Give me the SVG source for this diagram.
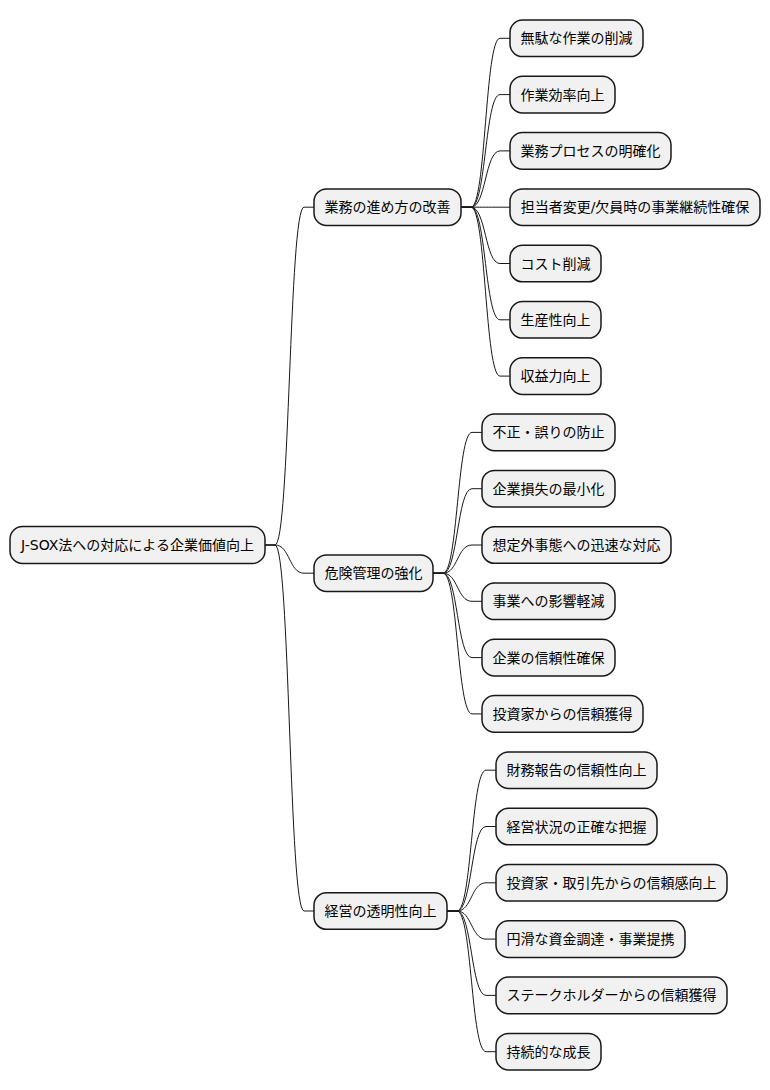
<svg xmlns="http://www.w3.org/2000/svg" width="770" height="1090" viewBox="0 0 770 1090">
<style>
rect{fill:#F1F1F1;stroke:#181818;stroke-width:1.5}
text{font-family:"DejaVu Sans","Noto Sans CJK JP",sans-serif;font-size:14px;fill:#000;text-anchor:middle}
.c path{fill:none;stroke:#181818;stroke-width:1}
</style>
<rect x="0" y="0" width="770" height="1090" style="fill:#fff;stroke:none"/>
<g class="c" id="connectors">
<path d="M265 545 L275 545 C290 545 289 207.2 304 207.2 L314 207.2"/>
<path d="M265 545 L275 545 C290 545 289 573.2 304 573.2 L314 573.2"/>
<path d="M265 545 L275 545 C290 545 289 911 304 911 L314 911"/>
<path d="M461 207.2 L471 207.2 C486 207.2 485 38.3 500 38.3 L510 38.3"/>
<path d="M461 207.2 L471 207.2 C486 207.2 485 94.6 500 94.6 L510 94.6"/>
<path d="M461 207.2 L471 207.2 C486 207.2 485 150.9 500 150.9 L510 150.9"/>
<path d="M461 207.2 L471 207.2 C486 207.2 485 207.2 500 207.2 L510 207.2"/>
<path d="M461 207.2 L471 207.2 C486 207.2 485 263.5 500 263.5 L510 263.5"/>
<path d="M461 207.2 L471 207.2 C486 207.2 485 319.8 500 319.8 L510 319.8"/>
<path d="M461 207.2 L471 207.2 C486 207.2 485 376.1 500 376.1 L510 376.1"/>
<path d="M433 573.2 L443 573.2 C458 573.2 457 432.4 472 432.4 L482 432.4"/>
<path d="M433 573.2 L443 573.2 C458 573.2 457 488.7 472 488.7 L482 488.7"/>
<path d="M433 573.2 L443 573.2 C458 573.2 457 545 472 545 L482 545"/>
<path d="M433 573.2 L443 573.2 C458 573.2 457 601.3 472 601.3 L482 601.3"/>
<path d="M433 573.2 L443 573.2 C458 573.2 457 657.6 472 657.6 L482 657.6"/>
<path d="M433 573.2 L443 573.2 C458 573.2 457 713.9 472 713.9 L482 713.9"/>
<path d="M447 911 L457 911 C472 911 471 770.2 486 770.2 L496 770.2"/>
<path d="M447 911 L457 911 C472 911 471 826.5 486 826.5 L496 826.5"/>
<path d="M447 911 L457 911 C472 911 471 882.8 486 882.8 L496 882.8"/>
<path d="M447 911 L457 911 C472 911 471 939.1 486 939.1 L496 939.1"/>
<path d="M447 911 L457 911 C472 911 471 995.4 486 995.4 L496 995.4"/>
<path d="M447 911 L457 911 C472 911 471 1051.7 486 1051.7 L496 1051.7"/>
</g>
<g id="root"><rect x="10" y="526.5" width="255" height="37" rx="12.5"/><text x="137.5" y="550">J-SOX法への対応による企業価値向上</text></g>
<g id="n1"><rect x="314" y="188.9" width="147" height="36.6" rx="12.5"/><text x="387.5" y="212.2">業務の進め方の改善</text></g>
<g id="n2"><rect x="314" y="554.9" width="119" height="36.6" rx="12.5"/><text x="373.5" y="578.2">危険管理の強化</text></g>
<g id="n3"><rect x="314" y="892.7" width="133" height="36.6" rx="12.5"/><text x="380.5" y="916">経営の透明性向上</text></g>
<g id="l0"><rect x="510" y="20" width="133" height="36.6" rx="12.5"/><text x="576.5" y="43.3">無駄な作業の削減</text></g>
<g id="l1"><rect x="510" y="76.3" width="105" height="36.6" rx="12.5"/><text x="562.5" y="99.6">作業効率向上</text></g>
<g id="l2"><rect x="510" y="132.6" width="161" height="36.6" rx="12.5"/><text x="590.5" y="155.9">業務プロセスの明確化</text></g>
<g id="l3"><rect x="510" y="188.9" width="250" height="36.6" rx="12.5"/><text x="635" y="212.2">担当者変更/欠員時の事業継続性確保</text></g>
<g id="l4"><rect x="510" y="245.2" width="91" height="36.6" rx="12.5"/><text x="555.5" y="268.5">コスト削減</text></g>
<g id="l5"><rect x="510" y="301.5" width="91" height="36.6" rx="12.5"/><text x="555.5" y="324.8">生産性向上</text></g>
<g id="l6"><rect x="510" y="357.8" width="91" height="36.6" rx="12.5"/><text x="555.5" y="381.1">収益力向上</text></g>
<g id="l7"><rect x="482" y="414.1" width="133" height="36.6" rx="12.5"/><text x="548.5" y="437.4">不正・誤りの防止</text></g>
<g id="l8"><rect x="482" y="470.4" width="133" height="36.6" rx="12.5"/><text x="548.5" y="493.7">企業損失の最小化</text></g>
<g id="l9"><rect x="482" y="526.7" width="189" height="36.6" rx="12.5"/><text x="576.5" y="550">想定外事態への迅速な対応</text></g>
<g id="l10"><rect x="482" y="583" width="133" height="36.6" rx="12.5"/><text x="548.5" y="606.3">事業への影響軽減</text></g>
<g id="l11"><rect x="482" y="639.3" width="133" height="36.6" rx="12.5"/><text x="548.5" y="662.6">企業の信頼性確保</text></g>
<g id="l12"><rect x="482" y="695.6" width="161" height="36.6" rx="12.5"/><text x="562.5" y="718.9">投資家からの信頼獲得</text></g>
<g id="l13"><rect x="496" y="751.9" width="161" height="36.6" rx="12.5"/><text x="576.5" y="775.2">財務報告の信頼性向上</text></g>
<g id="l14"><rect x="496" y="808.2" width="161" height="36.6" rx="12.5"/><text x="576.5" y="831.5">経営状況の正確な把握</text></g>
<g id="l15"><rect x="496" y="864.5" width="231" height="36.6" rx="12.5"/><text x="611.5" y="887.8">投資家・取引先からの信頼感向上</text></g>
<g id="l16"><rect x="496" y="920.8" width="189" height="36.6" rx="12.5"/><text x="590.5" y="944.1">円滑な資金調達・事業提携</text></g>
<g id="l17"><rect x="496" y="977.1" width="231" height="36.6" rx="12.5"/><text x="611.5" y="1000.4">ステークホルダーからの信頼獲得</text></g>
<g id="l18"><rect x="496" y="1033.4" width="105" height="36.6" rx="12.5"/><text x="548.5" y="1056.7">持続的な成長</text></g>
</svg>
